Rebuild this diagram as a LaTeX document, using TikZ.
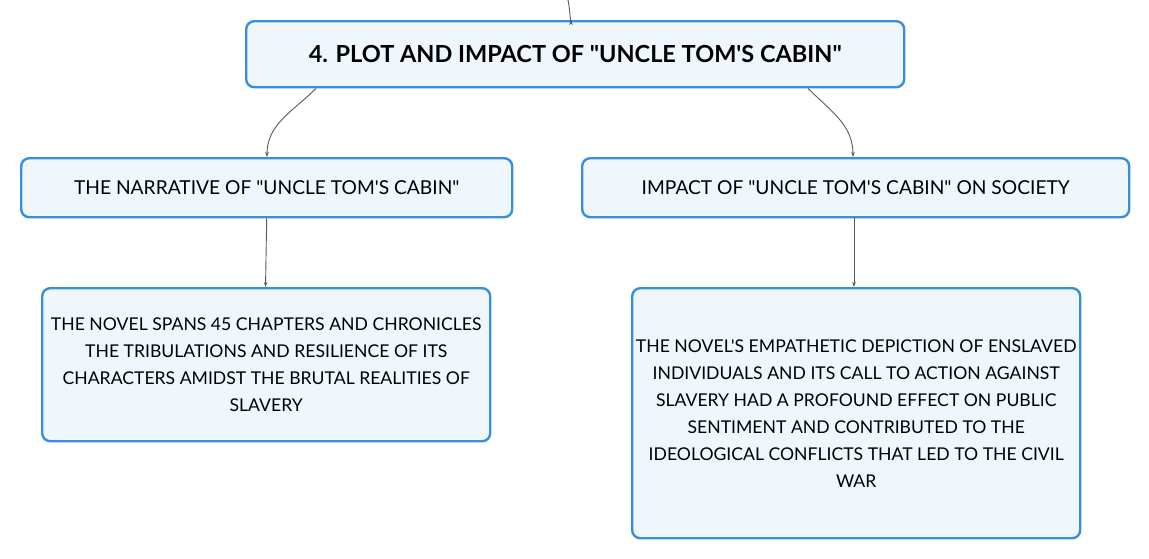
\documentclass[tikz,border=0pt]{standalone}
\usepackage{fontspec}
\setmainfont{Lato}[Ligatures=TeXOff]
\usetikzlibrary{arrows.meta}
\definecolor{boxfill}{HTML}{EFF7FD}
\definecolor{boxline}{HTML}{3A8FDA}
\definecolor{linkc}{HTML}{5A5A5A}
\begin{document}
\begin{tikzpicture}[x=1pt,y=-1pt,
  box/.style={draw=boxline,line width=2.4pt,fill=boxfill,rounded corners=8pt,inner sep=0pt,align=center,anchor=north west},
  link/.style={draw=linkc,line width=0.9pt,-{Stealth[length=5pt,width=3.5pt]}}]
\useasboundingbox (0,0) rectangle (1149,558);
\node[box,minimum width=658pt,minimum height=66pt,font=\fontsize{23.5}{28}\selectfont\bfseries] (top) at (245,20) {4. PLOT AND IMPACT OF "UNCLE TOM'S CABIN"};
\node[box,minimum width=491pt,minimum height=59pt,font=\fontsize{19.2}{22}\selectfont] (left) at (20,157) {THE NARRATIVE OF "UNCLE TOM'S CABIN"};
\node[box,minimum width=547pt,minimum height=59pt,font=\fontsize{19.2}{22}\selectfont] (right) at (581,157) {IMPACT OF "UNCLE TOM'S CABIN" ON SOCIETY};
\node[box,minimum width=448pt,minimum height=153pt,font=\fontsize{17.6}{27}\selectfont] (lb) at (41,287) {THE NOVEL SPANS 45 CHAPTERS AND CHRONICLES\\THE TRIBULATIONS AND RESILIENCE OF ITS\\CHARACTERS AMIDST THE BRUTAL REALITIES OF\\SLAVERY};
\node[box,minimum width=448pt,minimum height=250pt,font=\fontsize{17.6}{27}\selectfont] (rb) at (631,287) {THE NOVEL'S EMPATHETIC DEPICTION OF ENSLAVED\\INDIVIDUALS AND ITS CALL TO ACTION AGAINST\\SLAVERY HAD A PROFOUND EFFECT ON PUBLIC\\SENTIMENT AND CONTRIBUTED TO THE\\IDEOLOGICAL CONFLICTS THAT LED TO THE CIVIL\\WAR};
\coordinate (in) at (567,0);
\draw[link] (in) to[out=80,in=-90] ([xshift=326pt]top.north west);
\draw[link] ([xshift=71pt]top.south west) to[out=-135,in=90] ([xshift=247pt]left.north west);
\draw[link] ([xshift=563pt]top.south west) to[out=-45,in=90] ([xshift=272pt]right.north west);
\draw[link] (left.south) -- ([xshift=224.5pt]lb.north west);
\draw[link] ([xshift=273pt]right.south west) -- ([xshift=223pt]rb.north west);
\end{tikzpicture}
\end{document}
